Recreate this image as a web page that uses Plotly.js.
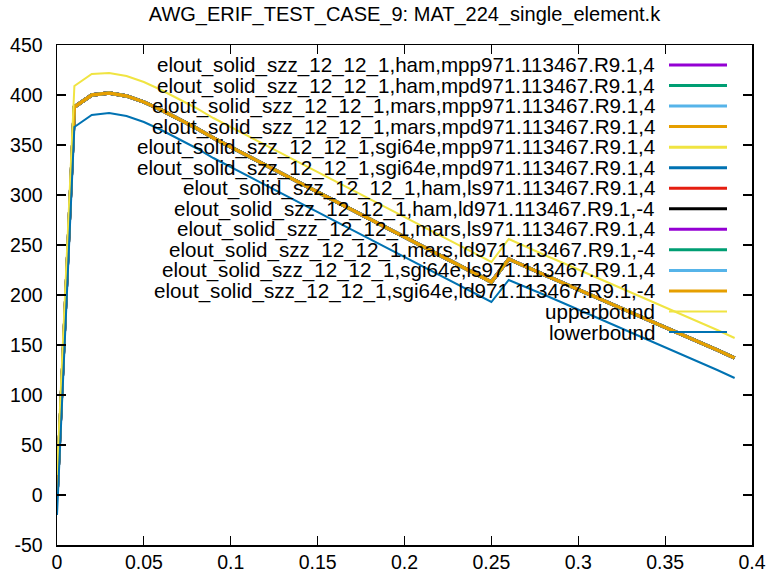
<!DOCTYPE html>
<html>
<head>
<meta charset="utf-8">
<script src="https://cdn.plot.ly/plotly-3.0.1.min.js"></script>
<style>html,body{margin:0;padding:0;background:#fff;}#chart{width:771px;height:577px;}</style>
</head>
<body>
<div id="chart"></div>
<script>
const chartTitle = "AWG_ERIF_TEST_CASE_9: MAT_224_single_element.k";
const xValues = [0,0.01,0.02,0.03,0.04,0.05,0.06,0.07,0.08,0.09,0.10,0.11,0.12,0.13,0.14,0.15,0.16,0.17,0.18,0.19,0.20,0.21,0.22,0.23,0.24,0.25,0.26,0.27,0.28,0.29,0.30,0.31,0.32,0.33,0.34,0.35,0.36,0.37,0.38,0.39];
const stressValues = [0,388,400,402,399,393,385,376,367,357,348,339,330,321,312,303,294,285,276,267,258,249,240,231,222,213,236,228,220.5,213,205.5,198,190.5,183,175.5,168,160.5,152.5,145,137];
const upperValues = [20,409,421,422,419,413,405,396,387,377,368,359,350,341,332,323,314,305,296,287,278,269,260,251,242,233,256,248,240.5,233,225.5,218,210.5,203,195.5,188,180.5,172.5,165,157];
const lowerValues = [-20,368,380,382,379,373,365,356,347,337,328,319,310,301,292,283,274,265,256,247,238,229,220,211,202,193,215,208,200.5,193,185.5,178,170.5,163,155.5,148,140.5,132.5,125,117];
const seriesNames = [
 "elout_solid_szz_12_12_1,ham,mpp971.113467.R9.1,4",
 "elout_solid_szz_12_12_1,ham,mpd971.113467.R9.1,4",
 "elout_solid_szz_12_12_1,mars,mpp971.113467.R9.1,4",
 "elout_solid_szz_12_12_1,mars,mpd971.113467.R9.1,4",
 "elout_solid_szz_12_12_1,sgi64e,mpp971.113467.R9.1,4",
 "elout_solid_szz_12_12_1,sgi64e,mpd971.113467.R9.1,4",
 "elout_solid_szz_12_12_1,ham,ls971.113467.R9.1,4",
 "elout_solid_szz_12_12_1,ham,ld971.113467.R9.1,-4",
 "elout_solid_szz_12_12_1,mars,ls971.113467.R9.1,4",
 "elout_solid_szz_12_12_1,mars,ld971.113467.R9.1,-4",
 "elout_solid_szz_12_12_1,sgi64e,ls971.113467.R9.1,4",
 "elout_solid_szz_12_12_1,sgi64e,ld971.113467.R9.1,-4"
];
const boundNames = ["upperbound","lowerbound"];
const palette = ["#9400d3","#009e73","#56b4e9","#e69f00","#f0e442","#0072b2","#e51e10","#000000"];
const xTickVals = [0,0.05,0.1,0.15,0.2,0.25,0.3,0.35,0.4];
const xTickText = ["0","0.05","0.1","0.15","0.2","0.25","0.3","0.35","0.4"];
const yTickVals = [-50,0,50,100,150,200,250,300,350,400,450];
const yTickText = ["-50","0","50","100","150","200","250","300","350","400","450"];

const FONT = "'Liberation Sans', Arial, sans-serif";
const traces = [];
const legendItems = [];
seriesNames.forEach((n, i) => {
  const c = palette[i % palette.length];
  traces.push({x: xValues, y: stressValues, type: "scatter", mode: "lines", name: n,
    line: {color: c, width: 3.4}, showlegend: false});
  legendItems.push({name: n, color: c, width: 3});
});
[upperValues, lowerValues].forEach((vals, i) => {
  const c = i === 0 ? "#f0e442" : "#0072b2";
  traces.push({x: xValues, y: vals, type: "scatter", mode: "lines", name: boundNames[i],
    line: {color: c, width: 2}, showlegend: false});
  legendItems.push({name: boundNames[i], color: c, width: 2});
});

// gnuplot-style key: right-aligned text with sample line to its right
const W = 771, H = 577, mL = 57, mR = 19, mT = 45, mB = 32;
const pw = W - mL - mR, ph = H - mT - mB;
const annotations = [], shapes = [];
legendItems.forEach((it, i) => {
  const yp = 65 + i * 20.54;
  const yPaper = (H - mB - yp) / ph;
  annotations.push({xref: "paper", yref: "paper", x: (657 - mL) / pw, y: yPaper,
    xanchor: "right", yanchor: "middle", text: it.name, showarrow: false,
    font: {family: FONT, size: 20.6, color: "#000"}});
  shapes.push({type: "line", xref: "paper", yref: "paper",
    x0: (669 - mL) / pw, x1: (727 - mL) / pw, y0: yPaper, y1: yPaper,
    line: {color: it.color, width: it.width}});
});

const axisCommon = {showline: true, linecolor: "#000", linewidth: 1.5, mirror: "ticks",
  ticks: "inside", ticklen: 9, tickwidth: 1.2, tickcolor: "#000", showgrid: false, zeroline: false,
  tickfont: {family: FONT, size: 19.5, color: "#000"}, tickmode: "array"};

const layout = {
  width: W, height: H,
  margin: {l: mL, r: mR, t: mT, b: mB, pad: 0},
  paper_bgcolor: "#fff", plot_bgcolor: "#fff",
  title: {text: chartTitle, x: (mL + pw / 2) / W, xanchor: "center", y: 1 - 14 / H, yanchor: "middle",
    font: {family: FONT, size: 20, color: "#000"}},
  xaxis: Object.assign({}, axisCommon, {range: [0, 0.4], tickvals: xTickVals, ticktext: xTickText, ticklabelstandoff: -1}),
  yaxis: Object.assign({}, axisCommon, {range: [-50, 450], tickvals: yTickVals, ticktext: yTickText, ticklabelstandoff: 9}),
  annotations: annotations, shapes: shapes, showlegend: false
};
Plotly.newPlot("chart", traces, layout, {displayModeBar: false, staticPlot: true});
</script>
</body>
</html>
